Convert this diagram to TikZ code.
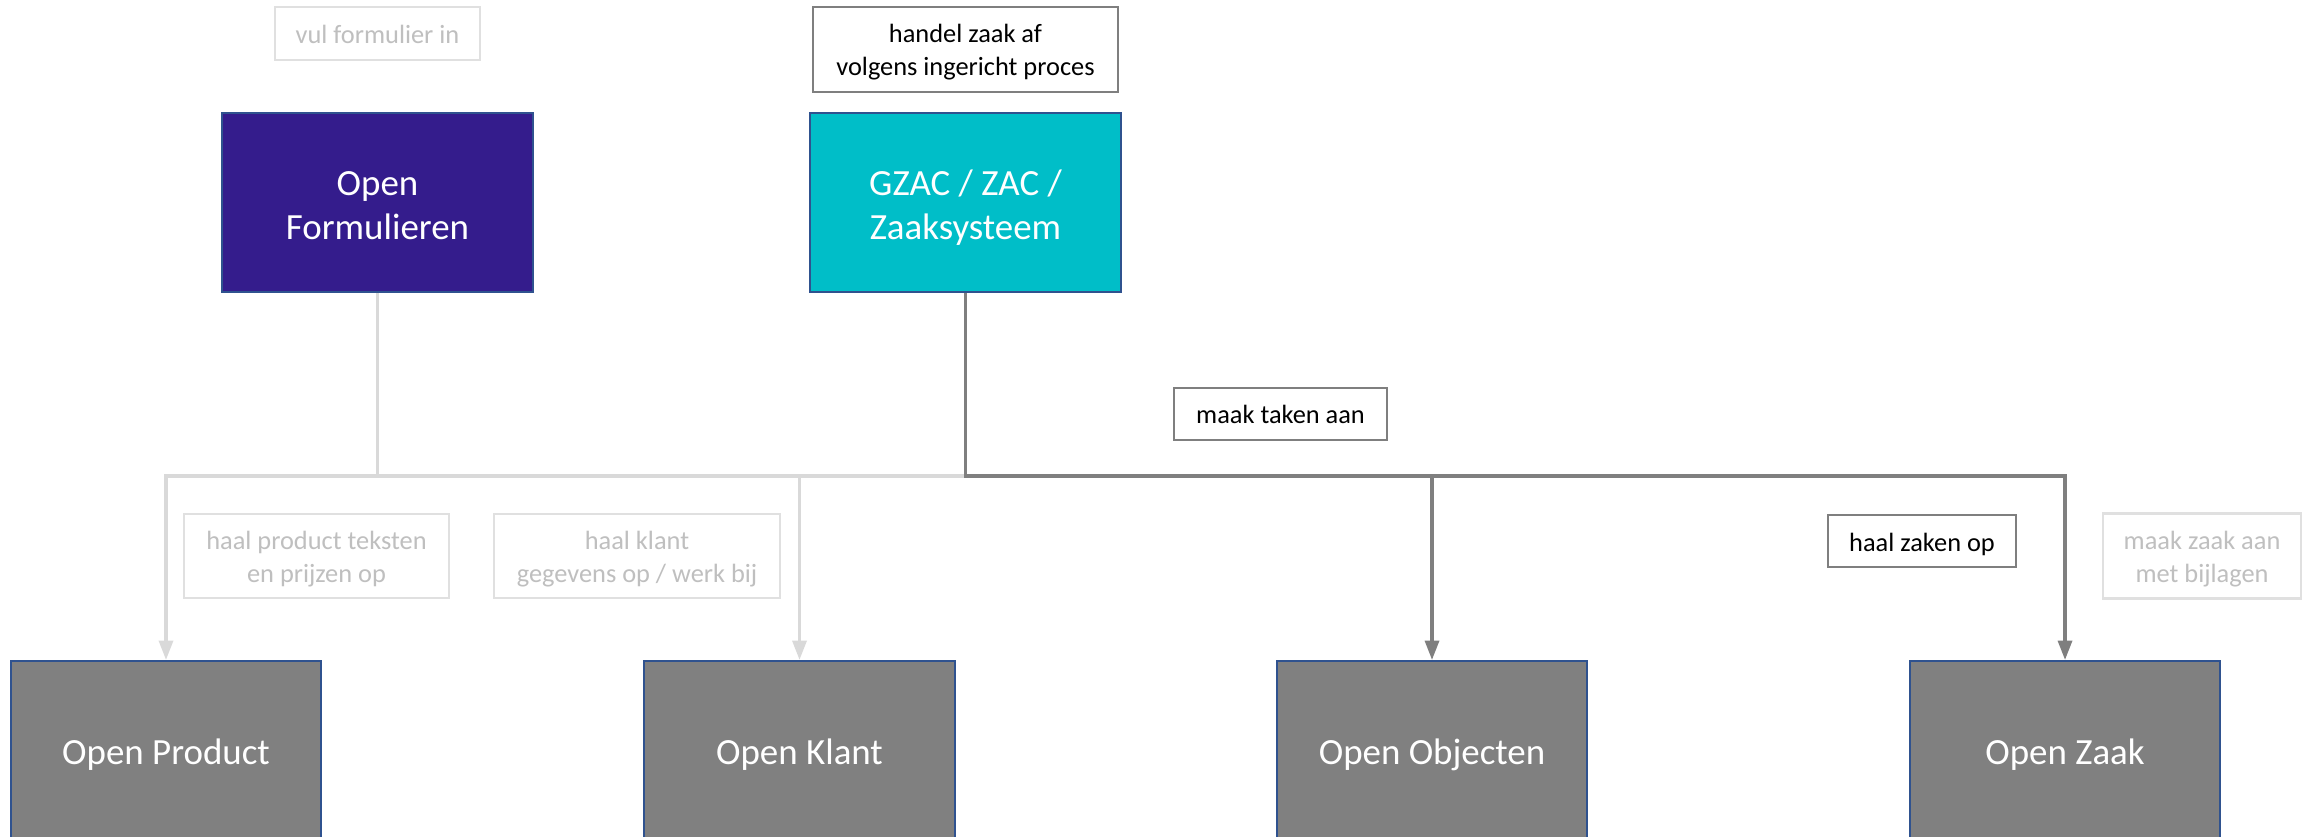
\documentclass[tikz,border=0pt]{standalone}
\usepackage{fontspec}
\setmainfont{Carlito}
\usetikzlibrary{arrows.meta}
\definecolor{ofpurple}{RGB}{52,28,140}
\definecolor{gzcyan}{RGB}{0,190,200}
\definecolor{bordblue}{RGB}{47,82,143}
\definecolor{boxgrey}{RGB}{128,128,128}
\definecolor{lightline}{RGB}{217,217,217}
\definecolor{darkline}{RGB}{127,127,127}
\definecolor{fadetext}{RGB}{191,191,191}
\definecolor{fadeborder}{RGB}{224,224,224}
\newcommand{\lowtext}[2]{\raisebox{-#1}[\height][\depth]{\begin{tabular}{@{}c@{}}#2\end{tabular}}}
\tikzset{
  sysbox/.style={draw=bordblue, line width=0.6pt, text=white, align=center,
    font=\fontsize{10.5}{12.6}\selectfont, inner sep=0pt},
  lbl/.style={draw=darkline, fill=white, line width=0.6pt, align=center,
    font=\fontsize{7.5}{9.2}\selectfont, inner sep=0pt, text=black},
  fadelbl/.style={lbl, draw=fadeborder, text=fadetext},
  lightconn/.style={draw=lightline, line width=0.9pt},
  darkconn/.style={draw=darkline, line width=0.9pt},
  tip/.style={-{Triangle[length=5.5pt,width=4pt]}}
}
\begin{document}
\begin{tikzpicture}[x=0.01cm,y=-0.01cm]
\useasboundingbox (0,0) rectangle (2313,836);
\clip (0,0) rectangle (2313,836);
% top systems
\node[sysbox, fill=ofpurple, minimum width=3.11cm, minimum height=1.79cm] (of) at (377.5,202.5) {\lowtext{1.7pt}{Open\\Formulieren}};
\node[sysbox, fill=gzcyan, minimum width=3.11cm, minimum height=1.79cm] (gz) at (965.5,202.5) {\lowtext{1.7pt}{GZAC / ZAC /\\Zaaksysteem}};
% bottom systems
\node[sysbox, fill=boxgrey, minimum width=3.10cm, minimum height=1.80cm] (op) at (166,751) {\lowtext{1.2pt}{Open Product}};
\node[sysbox, fill=boxgrey, minimum width=3.11cm, minimum height=1.80cm] (ok) at (799.5,751) {\lowtext{1.2pt}{Open Klant}};
\node[sysbox, fill=boxgrey, minimum width=3.10cm, minimum height=1.80cm] (oo) at (1432,751) {\lowtext{1.2pt}{Open Objecten}};
\node[sysbox, fill=boxgrey, minimum width=3.10cm, minimum height=1.80cm] (oz) at (2065,751) {\lowtext{1.2pt}{Open Zaak}};
% junctions
\coordinate (jl) at (of.south |- 0,476);
\coordinate (jd) at (gz.south |- 0,476);
% light connectors
\draw[lightconn] (of.south) -- (jl);
\draw[lightconn, tip] (jl) -| (op.north);
\draw[lightconn, tip] (jl) -| (ok.north);
\draw[lightconn] (ok.north |- jl) -- (jd);
% dark connectors
\draw[darkconn, tip] (gz.south) -- (jd) -| (oz.north);
\draw[darkconn, tip] (jd) -| (oo.north);
% labels
\node[fadelbl, minimum width=2.05cm, minimum height=0.53cm] (l1) at (377.5,33.5) {\lowtext{1pt}{vul formulier in}};
\node[lbl, minimum width=3.05cm, minimum height=0.85cm] (l2) at (965.5,49.5) {\lowtext{0.9pt}{handel zaak af\\volgens ingericht proces}};
\node[lbl, minimum width=2.13cm, minimum height=0.52cm] (l3) at (1280.5,414) {\lowtext{0.9pt}{maak taken aan}};
\node[fadelbl, minimum width=2.65cm, minimum height=0.84cm] (l4) at (316.5,556) {\lowtext{1pt}{haal product teksten\\en prijzen op}};
\node[fadelbl, minimum width=2.86cm, minimum height=0.84cm] (l5) at (637,556) {\lowtext{1pt}{haal klant\\gegevens op / werk bij}};
\node[lbl, minimum width=1.88cm, minimum height=0.52cm] (l6) at (1922,541) {\lowtext{1.1pt}{haal zaken op}};
\node[fadelbl, minimum width=1.98cm, minimum height=0.85cm] (l7) at (2202,556) {\lowtext{1pt}{maak zaak aan\\met bijlagen}};
\end{tikzpicture}
\end{document}
